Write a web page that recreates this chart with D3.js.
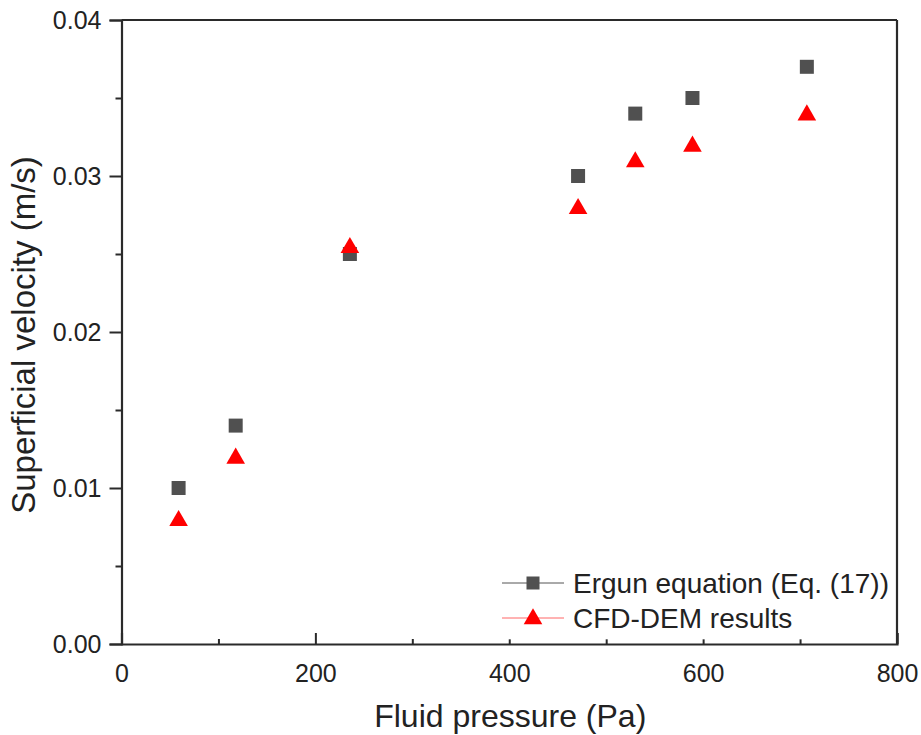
<!DOCTYPE html>
<html>
<head>
<meta charset="utf-8">
<script src="https://cdn.jsdelivr.net/npm/d3@7"></script>
<style>
  body { margin: 0; background: #fff; }
  text { font-family: "Liberation Sans", Arial, sans-serif; fill: #222; }
</style>
</head>
<body>
<div id="chart"></div>
<script>
// fluid pressure (Pa)
const pressure = [58.9, 117.8, 235.6, 471, 530, 589, 707];
// superficial velocity (m/s)
const ergun = [0.010, 0.014, 0.025, 0.030, 0.034, 0.035, 0.037];
const cfdDem = [0.008, 0.012, 0.0255, 0.028, 0.031, 0.032, 0.034];
const xTicks = [0, 200, 400, 600, 800];
const yTicks = [0, 0.01, 0.02, 0.03, 0.04];
const seriesNames = ["Ergun equation (Eq. (17))", "CFD-DEM results"];

const W = 921, H = 735;
const margin = {top: 20, left: 121.5, right: 24, bottom: 91};
const w = W - margin.left - margin.right,
      h = H - margin.top - margin.bottom;

const svg = d3.select("#chart").append("svg")
  .attr("width", W).attr("height", H);
const g = svg.append("g").attr("transform", `translate(${margin.left},${margin.top})`);

const x = d3.scaleLinear().domain([0, 800]).range([0, w]);
const y = d3.scaleLinear().domain([0, 0.04]).range([h, 0]);

const axisColor = "#2a2a2a";

// x axis: ticks pointing inward
g.append("g").attr("transform", `translate(0,${h})`)
  .call(d3.axisBottom(x).tickValues(xTicks).tickSize(-11).tickPadding(20).tickFormat(d3.format("d")));
g.append("g").attr("transform", `translate(0,${h})`)
  .call(d3.axisBottom(x).tickValues([100, 300, 500, 700]).tickSize(-5).tickFormat(""))
  .select(".domain").remove();

// y axis: ticks pointing outward
g.append("g")
  .call(d3.axisLeft(y).tickValues(yTicks).tickSize(12).tickPadding(8).tickFormat(d3.format(".2f")));
g.append("g")
  .call(d3.axisLeft(y).tickValues([0.005, 0.015, 0.025, 0.035]).tickSize(6).tickFormat(""))
  .select(".domain").remove();

g.selectAll(".tick line").attr("stroke", axisColor).attr("stroke-width", 2);
g.selectAll(".domain").attr("stroke", axisColor).attr("stroke-width", 2.2);
g.selectAll(".tick text").style("font-size", "25px").attr("fill", "#222");

// top and right frame
g.append("line").attr("x1", 0).attr("x2", w).attr("y1", 0).attr("y2", 0)
  .attr("stroke", axisColor).attr("stroke-width", 2.2);
g.append("line").attr("x1", w).attr("x2", w).attr("y1", 0).attr("y2", h)
  .attr("stroke", axisColor).attr("stroke-width", 2.2);

// axis titles
svg.append("text")
  .attr("x", margin.left + w / 2 + 1).attr("y", 727)
  .attr("text-anchor", "middle").style("font-size", "32px")
  .text("Fluid pressure (Pa)");
svg.append("text")
  .attr("transform", `translate(35,${margin.top + h / 2 + 3}) rotate(-90)`)
  .attr("text-anchor", "middle").style("font-size", "33px")
  .text("Superficial velocity (m/s)");

const sq = 14;
const tri = d3.symbol().type(d3.symbolTriangle).size(150);

// legend (white box hides the tick tops beneath)
const leg = g.append("g");
leg.append("rect").attr("x", x(385)).attr("y", y(0.0054)).attr("width", w - x(385) - 2)
  .attr("height", y(0.0003) - y(0.0054)).attr("fill", "#fff");

// data points
g.selectAll(".ergun").data(pressure).enter().append("rect")
  .attr("class", "ergun")
  .attr("x", (d) => x(d) - sq / 2)
  .attr("y", (d, i) => y(ergun[i]) - sq / 2)
  .attr("width", sq).attr("height", sq)
  .attr("fill", "#505050");

g.selectAll(".cfd").data(pressure).enter().append("path")
  .attr("class", "cfd")
  .attr("d", tri)
  .attr("transform", (d, i) => `translate(${x(d)},${y(cfdDem[i]) + 1.5})`)
  .attr("fill", "#ff0000");

const rows = [
  {name: seriesNames[0], color: "#505050", line: "#555"},
  {name: seriesNames[1], color: "#ff0000", line: "#ff6666"}
];
rows.forEach((r, i) => {
  const ly = 583 - margin.top + i * 35;
  const lx0 = 502 - margin.left;
  leg.append("line").attr("x1", lx0).attr("x2", lx0 + 62)
    .attr("y1", ly).attr("y2", ly).attr("stroke", r.line).attr("stroke-width", 1);
  if (i === 0) {
    leg.append("rect").attr("x", lx0 + 31 - 6.5).attr("y", ly - 6.5)
      .attr("width", 13).attr("height", 13).attr("fill", r.color);
  } else {
    leg.append("path").attr("d", tri)
      .attr("transform", `translate(${lx0 + 31},${ly + 1})`).attr("fill", r.color);
  }
  leg.append("text").attr("x", lx0 + 71).attr("y", ly + 10)
    .style("font-size", "28px").text(r.name);
});
</script>
</body>
</html>
